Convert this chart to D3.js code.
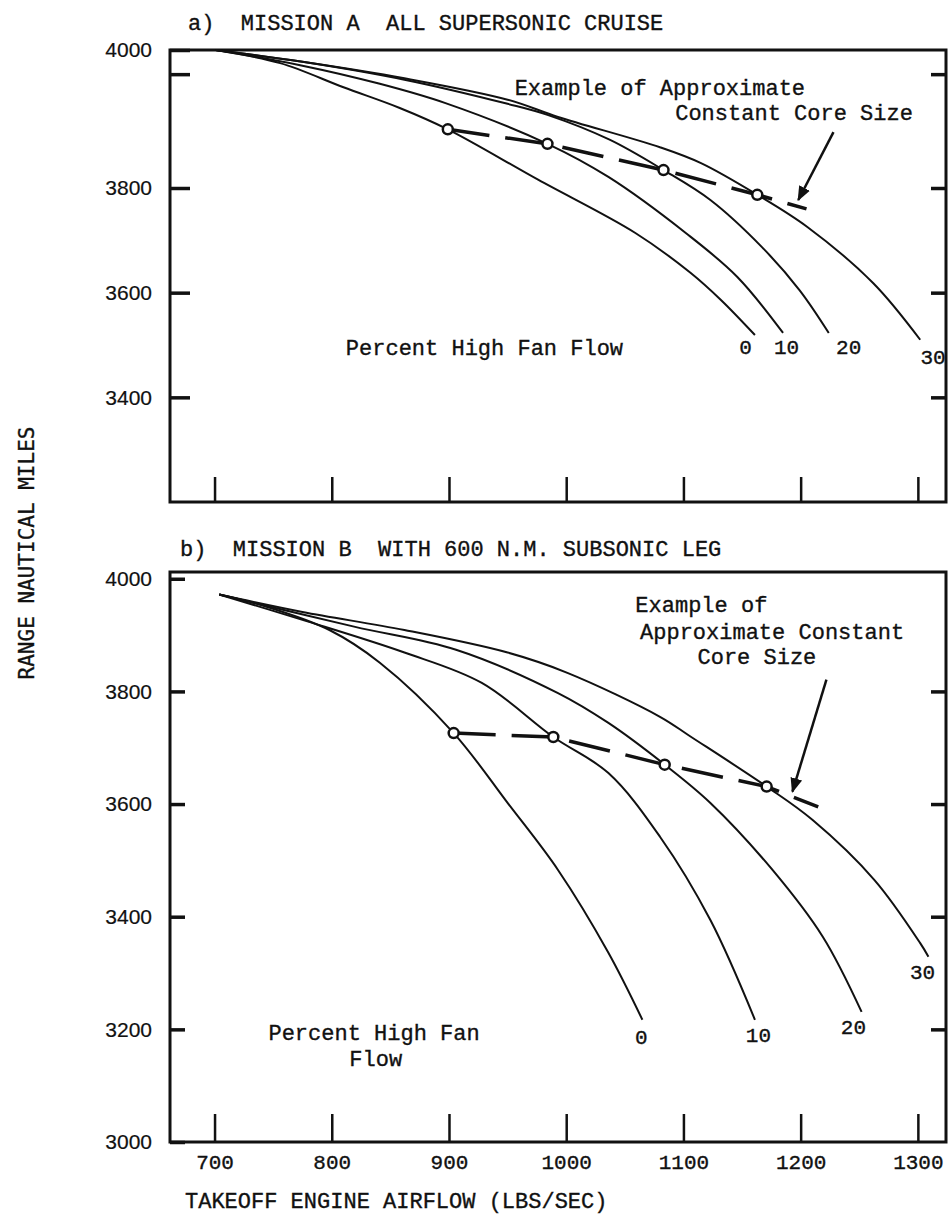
<!DOCTYPE html>
<meta charset="utf-8">
<head>
  <script src="https://d3js.org/d3.v7.min.js"></script>
  <style>
    body { margin: 0; background: #fff; }
    svg text { font-family: "Liberation Mono", monospace; fill: #111; stroke: #111; stroke-width: 0.35px; }
    .ylab text { font-family: "Liberation Sans", sans-serif; font-size: 21px; stroke-width: 0.2px; }
    .xlab text { font-size: 21px; }
  </style>
</head>
<body>
<svg id="chart"></svg>
<script>
  // ---------- data ----------
  var xTicks = [700, 800, 900, 1000, 1100, 1200, 1300];
  var yTicksA = [3400, 3600, 3800, 4000];
  var yTicksB = [3000, 3200, 3400, 3600, 3800, 4000];
  var fanFlow = ["0", "10", "20", "30"];

  // mission A, [airflow, range]
  var missionA0  = [[701,4000],[756,3981],[810,3946],[858,3916],[899,3885],[976,3812],[1059,3714],[1106,3638],[1132,3586],[1161,3519]];
  var missionA10 = [[701,4000],[773,3978],[841,3951],[897,3923],[984,3864],[1036,3816],[1102,3714],[1146,3630],[1185,3523]];
  var missionA20 = [[701,4000],[775,3983],[862,3957],[950,3922],[984,3906],[1037,3870],[1083,3826],[1123,3777],[1167,3687],[1199,3605],[1224,3523]];
  var missionA30 = [[701,4000],[775,3983],[862,3959],[950,3928],[993,3903],[1080,3859],[1115,3836],[1163,3787],[1206,3725],[1262,3618],[1302,3510]];
  var coreA = [[899,3885],[984,3864],[1083,3826],[1163,3787],[1205,3760]];
  var labelA = [[1153,3496],[1188,3496],[1241,3496],[1313,3477]];
  var arrowA = [[1228,3881],[1198,3777]];

  // mission B
  var missionB0  = [[704,3972],[745,3950],[798,3909],[841,3851],[904,3726],[950,3602],[993,3483],[1036,3336],[1065,3217]];
  var missionB10 = [[704,3972],[775,3927],[862,3869],[928,3815],[989,3719],[1036,3655],[1080,3542],[1123,3394],[1161,3217]];
  var missionB20 = [[704,3972],[819,3915],[906,3874],[993,3797],[1036,3744],[1084,3670],[1123,3602],[1176,3483],[1219,3364],[1252,3231]];
  var missionB30 = [[704,3972],[775,3941],[862,3909],[950,3869],[1001,3833],[1080,3755],[1106,3720],[1171,3631],[1210,3572],[1263,3465],[1302,3353],[1309,3329]];
  var coreB = [[904,3726],[989,3719],[1084,3670],[1171,3631],[1215,3595]];
  var labelB = [[1064,3187],[1164,3190],[1245,3204],[1304,3302]];
  var arrowB = [[1222,3821],[1193,3622]];

  // ---------- setup ----------
  var svg = d3.select("#chart").attr("width", 951).attr("height", 1214);

  svg.append("defs").append("marker")
    .attr("id", "head")
    .attr("viewBox", "0 0 10 10")
    .attr("refX", 9).attr("refY", 5)
    .attr("markerWidth", 6).attr("markerHeight", 6)
    .attr("orient", "auto")
    .append("path").attr("d", "M0,1 L10,5 L0,9 Z").attr("fill", "#111");

  var x = d3.scaleLinear().domain([662, 1324]).range([170, 946]);
  var yA = d3.scaleLinear().domain([3200, 3800, 4000]).range([502, 188, 50]);
  var yB = d3.scaleLinear().domain([3000, 4012]).range([1142, 572]);

  var line = function (y) {
    return d3.line().x(function (d) { return x(d[0]); }).y(function (d) { return y(d[1]); })
      .curve(d3.curveCatmullRom.alpha(0.5));
  };

  function styleAxis(a, w) {
    a.select(".domain").remove();
    a.selectAll("line").attr("stroke", "#111").attr("stroke-width", w);
  }

  function panel(y, curves, core, labels, arrow, yTicks, leftTick, bottomTick, showX) {
    var g = svg.append("g");
    var top = y.range()[y.range().length - 1], bot = y.range()[0];

    // frame
    g.append("rect")
      .attr("x", x.range()[0]).attr("y", top)
      .attr("width", x.range()[1] - x.range()[0]).attr("height", bot - top)
      .attr("fill", "none").attr("stroke", "#111").attr("stroke-width", 3);

    // left axis, ticks pointing inward
    g.append("g").attr("class", "ylab")
      .attr("transform", "translate(" + x.range()[0] + ",0)")
      .call(d3.axisLeft(y).tickValues(yTicks).tickSize(-leftTick).tickPadding(18).tickFormat(d3.format("d")))
      .call(styleAxis, 3.5);

    // right axis, no labels
    g.append("g")
      .attr("transform", "translate(" + x.range()[1] + ",0)")
      .call(d3.axisRight(y).tickValues(yTicks.filter(function (d) { return d > y.domain()[0] && d < 4000; })).tickSize(-15).tickFormat(""))
      .call(styleAxis, 3.5);

    // bottom axis
    g.append("g").attr("class", "xlab")
      .attr("transform", "translate(0," + bot + ")")
      .call(d3.axisBottom(x).tickValues(xTicks).tickSize(-bottomTick).tickPadding(12).tickFormat(showX ? d3.format("d") : ""))
      .call(styleAxis, 2.5);

    // curves
    g.selectAll(".curve").data(curves).enter().append("path")
      .attr("class", "curve")
      .attr("d", line(y))
      .attr("fill", "none").attr("stroke", "#111").attr("stroke-width", 2);

    // constant core size line
    g.append("path").datum(core)
      .attr("d", d3.line().x(function (d) { return x(d[0]); }).y(function (d) { return y(d[1]); }))
      .attr("fill", "none").attr("stroke", "#111").attr("stroke-width", 3.5)
      .attr("stroke-dasharray", "42,16");

    g.selectAll(".pt").data(core.slice(0, 4)).enter().append("circle")
      .attr("cx", function (d) { return x(d[0]); })
      .attr("cy", function (d) { return y(d[1]); })
      .attr("r", 5).attr("fill", "#fff").attr("stroke", "#111").attr("stroke-width", 2.5);

    // curve labels
    g.selectAll(".lab").data(labels).enter().append("text")
      .attr("x", function (d) { return x(d[0]); })
      .attr("y", function (d) { return y(d[1]); })
      .attr("dy", "0.35em").attr("text-anchor", "middle")
      .style("font-size", "21px")
      .text(function (d, i) { return fanFlow[i]; });

    // arrow
    g.append("line")
      .attr("x1", x(arrow[0][0])).attr("y1", y(arrow[0][1]))
      .attr("x2", x(arrow[1][0])).attr("y2", y(arrow[1][1]))
      .attr("stroke", "#111").attr("stroke-width", 2.5)
      .attr("marker-end", "url(#head)");
    return g;
  }

  var gA = panel(yA, [missionA0, missionA10, missionA20, missionA30], coreA, labelA, arrowA, yTicksA, 20, 25, false);
  var gB = panel(yB, [missionB0, missionB10, missionB20, missionB30], coreB, labelB, arrowB, yTicksB, 15, 28, true);

  // unlabeled ticks just below the top frame of panel a
  gA.append("g").attr("transform", "translate(" + x.range()[0] + ",0)")
    .call(d3.axisLeft(yA).tickValues([3965]).tickSize(-20).tickFormat(""))
    .call(styleAxis, 3.5);
  gA.append("g").attr("transform", "translate(" + x.range()[1] + ",0)")
    .call(d3.axisRight(yA).tickValues([3965]).tickSize(-15).tickFormat(""))
    .call(styleAxis, 3.5);

  // annotations
  function note(g, y, txt, vx, vy) {
    g.append("text").attr("x", x(vx)).attr("y", y(vy)).attr("dy", "0.35em")
      .style("font-size", "22px").text(txt);
  }
  note(gA, yA, "Example of Approximate", 956, 3946);
  note(gA, yA, "Constant Core Size", 1093, 3909);
  note(gA, yA, "Percent High Fan Flow", 812, 3496);
  note(gB, yB, "Example of", 1059, 3954);
  note(gB, yB, "Approximate Constant", 1063, 3906);
  note(gB, yB, "Core Size", 1112, 3862);
  note(gB, yB, "Percent High Fan", 746, 3194);
  note(gB, yB, "Flow", 815, 3149);

  // titles
  svg.append("text").attr("x", 188).attr("y", 30).style("font-size", "22px")
    .attr("xml:space", "preserve").text("a)  MISSION A  ALL SUPERSONIC CRUISE");
  svg.append("text").attr("x", 180).attr("y", 556).style("font-size", "22px")
    .attr("xml:space", "preserve").text("b)  MISSION B  WITH 600 N.M. SUBSONIC LEG");
  svg.append("text").attr("x", 185).attr("y", 1208).style("font-size", "22px")
    .text("TAKEOFF ENGINE AIRFLOW (LBS/SEC)");
  svg.append("text")
    .attr("transform", "translate(34,553) rotate(-90)")
    .attr("text-anchor", "middle")
    .style("font-family", "'DejaVu Sans Mono', monospace").style("font-size", "21px")
    .text("RANGE NAUTICAL MILES");
</script>
</body>
